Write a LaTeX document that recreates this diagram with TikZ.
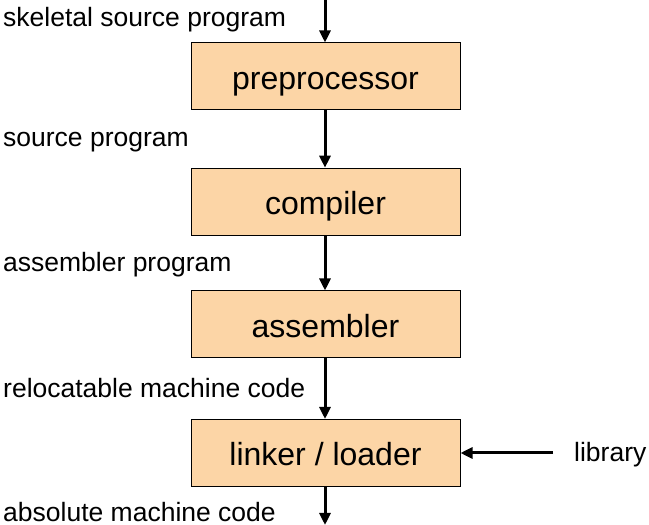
\documentclass[tikz,border=0pt]{standalone}
\usepackage{fontspec}
\setmainfont{Liberation Sans}
\usetikzlibrary{arrows.meta}
\definecolor{boxfill}{HTML}{FCD5A6}
\tikzset{
  procbox/.style={draw=black, line width=1pt, fill=boxfill, minimum width=269pt, minimum height=67pt, inner sep=0pt, text height=28pt, text depth=2pt, font=\fontsize{32}{36}\selectfont},
  lbl/.style={anchor=base west, inner sep=0pt, font=\fontsize{26.5}{30}\selectfont},
  flow/.style={line width=3pt, -{Triangle[length=12pt,width=11pt]}}
}
\begin{document}
\begin{tikzpicture}[x=1pt,y=1pt]
\useasboundingbox (0,0) rectangle (649,525);
\node[procbox] (pre) at (325.5,448.5) {preprocessor};
\node[procbox] (comp) at (325.5,323.3) {compiler};
\node[procbox] (asm) at (325.5,200.5) {assembler};
\node[procbox] (link) at (325.5,72) {linker / loader};
\coordinate (top) at (325,525);
\coordinate (bot) at (325,0);
\coordinate (libend) at (553,72);
\node[lbl] (l1) at (3,498) {skeletal source program};
\node[lbl] (l2) at (3,378) {source program};
\node[lbl] (l3) at (3,253) {assembler program};
\node[lbl] (l4) at (3,127) {relocatable machine code};
\node[lbl] (l5) at (3,3) {absolute machine code};
\node[lbl] (lib) at (574,63) {library};
\draw[flow] (top) -- (pre.north -| top);
\draw[flow] (pre.south -| top) -- (comp.north -| top);
\draw[flow] (comp.south -| top) -- (asm.north -| top);
\draw[flow] (asm.south -| top) -- (link.north -| top);
\draw[flow] (link.south -| top) -- (bot);
\draw[flow] (libend) -- (link.east);
\end{tikzpicture}
\end{document}
